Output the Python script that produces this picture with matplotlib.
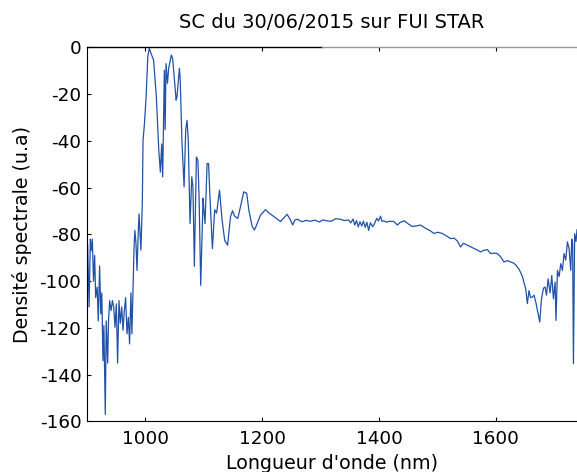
import numpy as np
import matplotlib
matplotlib.use('Agg')
import matplotlib.pyplot as plt

plt.rcParams['font.family'] = ['DejaVu Sans']
plt.rcParams['axes.unicode_minus'] = False

# spectre (nm, u.a)
wavelength = [
    900, 901, 903.6, 905.7, 907.1, 909.1, 911.1, 913.1, 914.8, 917.4, 919.3, 921.6,
    923.6, 925.3, 927.3, 928.9, 931.3, 932.9, 935.4, 936.8, 938.8, 941.2, 943.5, 945.7,
    947.9, 950.2, 952.4, 954.7, 957, 959.4, 961.6, 963.9, 966.1, 968.5, 970.8,
    972.9, 975.2, 976.9, 978.8, 980.4, 981.9, 983.8, 985.6, 987.3, 989.1, 990.8,
    992.3, 994.7, 995.9, 998.2, 1001.2, 1004.1, 1006.7, 1009.6, 1014, 1018.7, 1022.9,
    1025.6, 1027.9, 1029.6, 1032.4, 1033.8, 1035.3, 1037.8, 1039.8, 1044.4, 1046.7,
    1052.6, 1054.1, 1058.2, 1059.6, 1062.5, 1066.2, 1069, 1071.3, 1073.4, 1076.4,
    1079.4, 1081.4, 1083.8, 1087.3, 1089.9, 1091.9, 1094.7, 1098.7, 1100.1, 1102.1,
    1105.6, 1108.1, 1111, 1114.7, 1118.6, 1121.9, 1126.9, 1131.3, 1135.8, 1140.7, 1145.7,
    1149.1, 1152.6, 1158.1, 1162.5, 1168.4, 1173.4, 1177.3, 1182.8, 1186.7, 1191.2,
    1196.9, 1205.5, 1210.9, 1216.8, 1223.9, 1231.3, 1236.7, 1242.6, 1247.6, 1252.3, 1255.5,
    1259.8, 1268.4, 1275.3, 1282.2, 1290.2, 1298.1, 1304, 1310.9, 1317.9, 1325.8, 1333.7, 1340.7,
    1347.6, 1351.5, 1355.5, 1358.5, 1361.5, 1364.4, 1367.4, 1370.4, 1373.3, 1376.3, 1379.3, 1382.2,
    1385.2, 1389.2, 1392.1, 1396.1, 1399.1, 1402.6, 1405, 1408, 1412.9, 1417.8, 1425.5,
    1431.3, 1436.6, 1443.6, 1449.5, 1456.8, 1463.4, 1471.3, 1477.2, 1482.7, 1488.1, 1494,
    1501, 1508.4, 1514.8, 1522.7, 1528.7, 1534, 1539.6, 1544.5, 1551.1, 1556.4, 1562.3,
    1568.3, 1574, 1579.2, 1585.5, 1591, 1596.8, 1602.4, 1608, 1614, 1620, 1625.4,
    1630, 1634, 1640, 1645.6, 1648, 1651, 1654, 1656.8, 1659.5, 1662.6, 1665.5,
    1668.5, 1671.2, 1675.2, 1678, 1681.5, 1684.3, 1686.8, 1689.5, 1693, 1695.8, 1698.6,
    1701.5, 1703, 1705.5, 1708.4, 1711.2, 1714, 1716.8, 1719.7, 1722.6, 1725.4, 1728.3,
    1730, 1731.5, 1732.9, 1735, 1737.3, 1739,
]
densite = [
    -129, -84, -111, -82, -87, -82, -100, -89, -107, -102.5, -117, -93.5,
    -114, -105, -134, -119, -157, -117, -135, -117, -108.3, -112.6, -108.3, -111,
    -119.7, -109.7, -135, -108.3, -118, -111, -121, -112.6, -107, -122.5, -115.5,
    -126.8, -105, -122.5, -102.5, -86.7, -78.3, -83.7, -95.4, -82.3, -71.2, -79.7,
    -86.7, -66.5, -39.8, -33.2, -21.1, -4, -0.4, -2.6, -5.5, -21.1, -44,
    -53.4, -41.3, -55.4, -9.8, -35.2, -7, -15.4, -9, -3.3, -5,
    -22.6, -21.1, -9, -14, -39.8, -59.7, -35.2, -31.2, -39.8, -75.4,
    -55.4, -59.7, -93.7, -46.9, -48.3, -64, -101.8, -64.5, -69.5, -75.4,
    -49.7, -49.7, -66.5, -86.1, -69.5, -70.9, -61.1, -73.9, -82.6, -84.6, -72.5,
    -69.9, -72.1, -73.2, -68.5, -61.8, -62.4, -69.9, -76.6, -78.1, -75.5,
    -71.8, -69.4, -70.7, -71.8, -73.1, -74.5, -73, -71.4, -73.5, -76, -74,
    -73.5, -74.6, -74, -74.4, -73.9, -74.7, -73.8, -74.2, -74.4, -73.3, -73.5, -74.1,
    -73.8, -75.1, -73.4, -76, -74.1, -76.8, -74.6, -76.4, -74.3, -77, -74.8, -78.3,
    -75, -76.7, -75.5, -73.1, -74.3, -72.2, -74.4, -74.2, -74.8, -74.4, -74.5,
    -76, -74.8, -74.2, -75.4, -76.6, -76.4, -76, -77, -77.8, -78.5, -79.6,
    -79.1, -79.6, -80.6, -81.8, -81.6, -82.8, -85.4, -83.8, -84.6, -85.2, -86,
    -86.7, -87.5, -86.8, -86.5, -88.2, -88, -88.2, -89.5, -91.8, -91.2, -91.8,
    -92.2, -93, -95, -98, -100.4, -103, -109.6, -104, -107, -106.8, -106,
    -109, -112.5, -117.5, -108, -103, -102.5, -106, -99, -105, -97.6, -107.5,
    -100.4, -116.8, -95.4, -98, -92.5, -95.4, -88.2, -91, -83.2, -86, -95.4,
    -82, -84, -135.3, -79.7, -83, -78,
]

fig = plt.figure(figsize=(5.77, 4.72), dpi=100)
ax = fig.add_axes([0.1508, 0.107, 0.8492, 0.7928])

ax.plot(wavelength, densite, color='#2152a8', linewidth=0.9)

ax.set_xlim(900, 1739)
ax.set_ylim(-160, 0)
ax.set_xticks([1000, 1200, 1400, 1600])
ax.set_yticks(np.arange(-160, 1, 20))
ax.tick_params(direction='in', labelsize=13.2, length=3, top=True)
ax.tick_params(axis='x', pad=6)
ax.tick_params(axis='y', pad=4)

ax.spines['right'].set_visible(False)
ax.spines['top'].set_visible(False)
ax.plot([0, 0.48], [1, 1], transform=ax.transAxes, color='black', lw=1, clip_on=False)
ax.plot([0.48, 1], [1, 1], transform=ax.transAxes, color='#999999', lw=1, clip_on=False)

ax.set_title('SC du 30/06/2015 sur FUI STAR', fontsize=14, pad=14)
ax.set_xlabel("Longueur d'onde (nm)", fontsize=13.7)
ax.set_ylabel('Densité spectrale (u.a)', fontsize=13.7)
ax.xaxis.set_label_coords(0.5, -0.086)
ax.yaxis.set_label_coords(-0.112, 0.5)

fig.savefig('out.png', dpi=100)
